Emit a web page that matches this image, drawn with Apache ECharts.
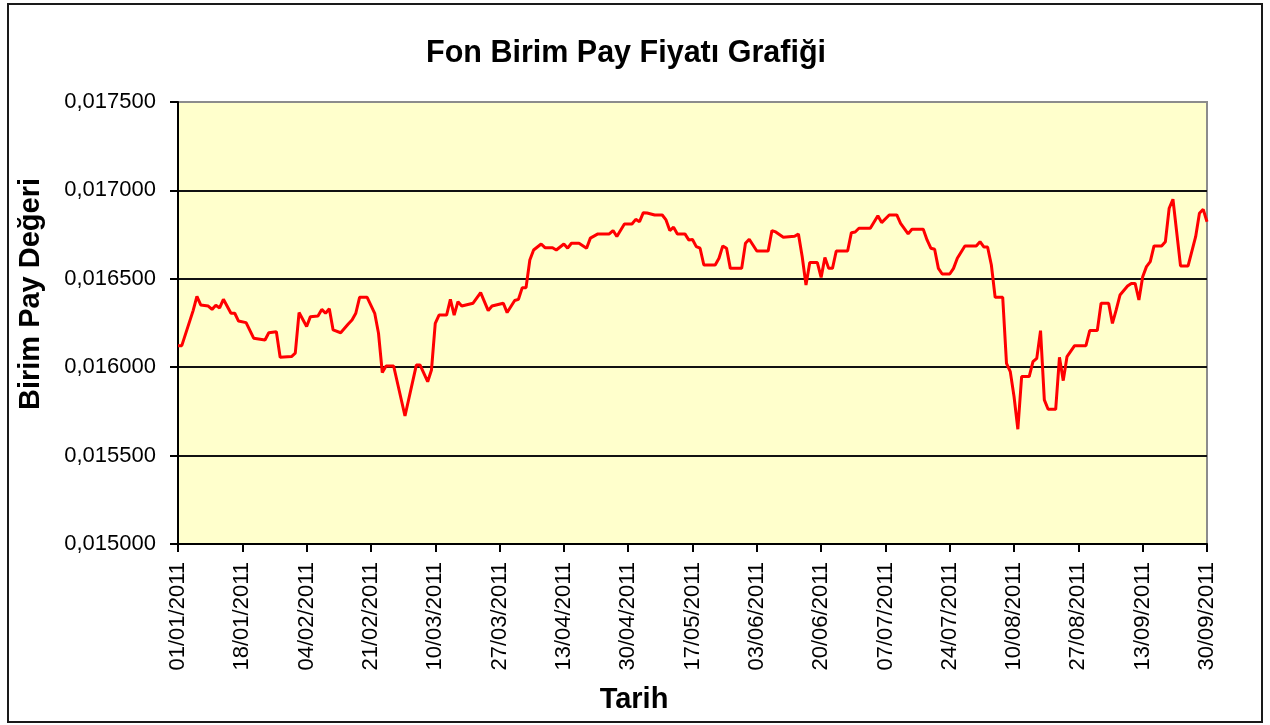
<!DOCTYPE html>
<html>
<head>
<meta charset="utf-8">
<script src="https://cdn.jsdelivr.net/npm/echarts@6/dist/echarts.min.js"></script>
<style>
html,body{margin:0;padding:0;background:#fff;}
#chart{width:1270px;height:725px;}
</style>
</head>
<body>
<div id="chart"></div>
<script>
// Days since 01/01/2011 and unit price
const days = [0,1,4,5,6,8,9,10,11,12,14,15,16,18,20,23,24,26,27,30,31,32,34,35,37,38,39,40,41,43,45,46,47,48,50,52,53,54,55,57,60,63,64,66,67,68,69,71,72,73,74,75,78,80,82,83,86,87,89,90,91,92,93,94,96,97,99,100,102,103,104,106,108,109,111,114,115,116,118,120,121,122,123,124,126,128,129,130,131,132,134,135,136,137,138,139,142,143,144,145,146,149,150,151,153,156,157,158,160,163,164,165,166,167,169,170,171,172,173,174,177,178,179,180,183,185,186,188,190,191,193,194,197,198,199,200,201,202,204,205,206,208,211,212,213,214,215,216,218,219,220,221,222,223,225,226,227,228,229,230,232,233,234,235,237,240,241,243,244,246,247,248,249,251,252,253,254,255,256,257,258,260,261,262,263,265,267,269,270,271,272];
const prices = [0.016122,0.016122,0.016320,0.016400,0.016352,0.016346,0.016327,0.016350,0.016335,0.016384,0.016305,0.016305,0.016261,0.016252,0.016164,0.016154,0.016195,0.016201,0.016056,0.016060,0.016079,0.016309,0.016230,0.016286,0.016290,0.016327,0.016305,0.016331,0.016211,0.016195,0.016244,0.016267,0.016305,0.016395,0.016395,0.016305,0.016192,0.015970,0.016007,0.016007,0.015724,0.016012,0.016012,0.015918,0.015984,0.016248,0.016295,0.016295,0.016384,0.016295,0.016371,0.016346,0.016362,0.016422,0.016320,0.016346,0.016362,0.016309,0.016377,0.016384,0.016450,0.016450,0.016606,0.016663,0.016697,0.016676,0.016676,0.016663,0.016697,0.016673,0.016701,0.016701,0.016673,0.016730,0.016754,0.016754,0.016773,0.016739,0.016810,0.016810,0.016836,0.016823,0.016874,0.016872,0.016861,0.016861,0.016833,0.016773,0.016792,0.016754,0.016754,0.016720,0.016722,0.016682,0.016673,0.016578,0.016578,0.016616,0.016686,0.016673,0.016559,0.016559,0.016701,0.016724,0.016657,0.016657,0.016773,0.016765,0.016735,0.016740,0.016754,0.016625,0.016465,0.016592,0.016592,0.016508,0.016621,0.016559,0.016559,0.016657,0.016657,0.016761,0.016765,0.016786,0.016786,0.016857,0.016818,0.016861,0.016861,0.016814,0.016754,0.016780,0.016780,0.016720,0.016673,0.016667,0.016559,0.016527,0.016527,0.016559,0.016616,0.016686,0.016686,0.016710,0.016680,0.016680,0.016578,0.016395,0.016395,0.016022,0.015975,0.015833,0.015649,0.015947,0.015947,0.016031,0.016050,0.016207,0.015815,0.015762,0.015762,0.016056,0.015924,0.016060,0.016122,0.016122,0.016207,0.016207,0.016362,0.016362,0.016248,0.016324,0.016408,0.016459,0.016474,0.016474,0.016380,0.016512,0.016569,0.016597,0.016686,0.016686,0.016710,0.016899,0.016950,0.016573,0.016573,0.016738,0.016871,0.016893,0.016823];
const tickLabels = ['01/01/2011','18/01/2011','04/02/2011','21/02/2011','10/03/2011','27/03/2011','13/04/2011','30/04/2011','17/05/2011','03/06/2011','20/06/2011','07/07/2011','24/07/2011','10/08/2011','27/08/2011','13/09/2011','30/09/2011'];
const titleText = 'Fon Birim Pay Fiyatı Grafiği';
const yName = 'Birim Pay Değeri';
const xName = 'Tarih';

const FONT = '"Liberation Sans", Arial, sans-serif';
const chart = echarts.init(document.getElementById('chart'), null, {renderer: 'canvas'});
const seriesData = days.map((d, i) => [d, prices[i]]);

chart.setOption({
  backgroundColor: '#ffffff',
  animation: false,
  title: {
    text: titleText,
    left: 621, top: 33, textAlign: 'center',
    textStyle: {fontFamily: FONT, fontSize: 30.5, fontWeight: 'bold', color: '#000'}
  },
  graphic: [
    {type: 'rect', shape: {x: 8, y: 4, width: 1254, height: 718}, style: {fill: 'none', stroke: '#1a1a1a', lineWidth: 2}, z: -1},
    {type: 'text', x: 31, y: 294, rotation: Math.PI / 2,
     style: {text: yName, x: 0, y: 0, align: 'center', verticalAlign: 'middle', fontFamily: FONT, fontSize: 29, fontWeight: 'bold', fill: '#000'}},
    {type: 'text', x: 634, y: 700,
     style: {text: xName, x: 0, y: 0, align: 'center', verticalAlign: 'middle', fontFamily: FONT, fontSize: 29, fontWeight: 'bold', fill: '#000'}}
  ],
  grid: {
    left: 178, right: 63, top: 102, bottom: 181,
    show: true, backgroundColor: '#FFFFCC', borderColor: '#8c8c8c', borderWidth: 2
  },
  xAxis: {
    type: 'value', min: 0, max: 272, interval: 17,
    axisLine: {show: true, lineStyle: {color: '#000', width: 2}},
    axisTick: {show: true, length: 8, lineStyle: {color: '#000', width: 2}},
    splitLine: {show: false},
    axisLabel: {
      rotate: 90, margin: 18,
      fontFamily: FONT, fontSize: 22, color: '#000',
      formatter: v => tickLabels[Math.round(v / 17)] || ''
    }
  },
  yAxis: {
    type: 'value', min: 0.015, max: 0.0175, interval: 0.0005,
    axisLine: {show: true, lineStyle: {color: '#000', width: 2}},
    axisTick: {show: true, length: 8, lineStyle: {color: '#000', width: 2}},
    splitLine: {show: true, lineStyle: {color: ['#000','#111','#111','#111','#111','#8c8c8c'], width: 2}},
    axisLabel: {
      margin: 22, fontFamily: FONT, fontSize: 22, color: '#000',
      formatter: v => v.toFixed(6).replace('.', ',')
    }
  },
  series: [{
    type: 'line',
    data: seriesData,
    showSymbol: false,
    lineStyle: {color: '#FF0000', width: 3},
    itemStyle: {color: '#FF0000'}
  }]
});
</script>
</body>
</html>
